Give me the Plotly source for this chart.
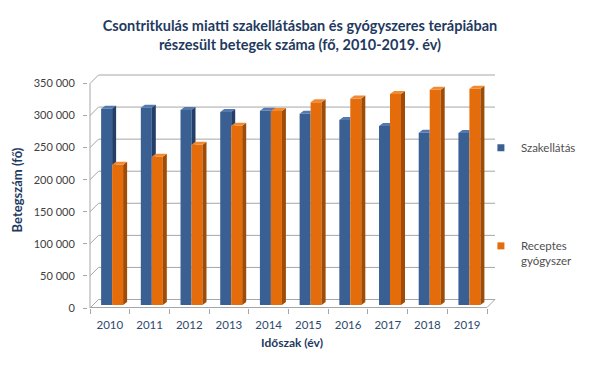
import plotly.graph_objects as go

# ---------------- data ----------------
years = ["2010", "2011", "2012", "2013", "2014", "2015", "2016", "2017", "2018", "2019"]
szakellatas = [306000, 307500, 304000, 301000, 303000, 298000, 288500, 279000, 268500, 268000]
receptes = [218500, 231000, 250000, 279500, 302500, 316000, 322000, 329000, 335500, 337000]
y_ticks = [0, 50000, 100000, 150000, 200000, 250000, 300000, 350000]

title_text = ("<b>Csontritkulás miatti szakellátásban és gyógyszeres terápiában</b><br>"
              "<b>részesült betegek száma (fő, 2010-2019. év)</b>")
y_title = "<b>Betegszám (fő)</b>"
x_title = "<b>Időszak (év)</b>"
name_blue = "Szakellátás"
name_orange = "Receptes<br>gyógyszer"

# ---------------- style / geometry ----------------
W, H = 600, 370
L, R, T, B = 88, 104, 72, 62
PX_CAT = 39.7          # pixels per category
VPX = 1559             # value units per pixel
plot_w = W - L - R
plot_h = H - T - B

x_lo = -0.5 - 2 / PX_CAT
x_hi = x_lo + plot_w / PX_CAT
y_lo = -3 * VPX                 # bar plane zero sits 3px above the plot bottom
y_hi = y_lo + plot_h * VPX
y2_hi = plot_h * VPX            # front (labelled) axis, zero at plot bottom

front_shift = -3 * VPX          # front plane relative to bar plane
back_shift = 5.5 * VPX          # back wall relative to bar plane
wall_dx = 8.5 / PX_CAT          # depth of walls in x units
n = len(years)
x_back_r = (n - 0.5) + 8 / PX_CAT

bar_w = 0.277
off_blue = -0.22
off_orange = off_blue + bar_w
dx = 4 / PX_CAT                 # visible depth of bars
dy = 3 * VPX

blue_front, blue_side, blue_top = "#3A5F93", "#233F69", "#5479AE"
orng_front, orng_side, orng_top = "#E46C0A", "#A04C06", "#F08A34"
grid_col = "#A6A6A6"
navy = "#1F3A5F"
label_col = "#404040"
legend_col = "#505050"
FONT = "Lato"

xs = list(range(n))

fig = go.Figure()
fig.add_trace(go.Bar(x=xs, y=szakellatas, offset=off_blue, width=bar_w,
                     marker=dict(color=blue_front, line=dict(width=0)),
                     name=name_blue, showlegend=False))
fig.add_trace(go.Bar(x=xs, y=receptes, offset=off_orange, width=bar_w,
                     marker=dict(color=orng_front, line=dict(width=0)),
                     name=name_orange, showlegend=False))
# legend entries
fig.add_trace(go.Scatter(x=[None], y=[None], mode="markers", name=name_blue,
                         marker=dict(symbol="square", size=7, color=blue_front),
                         legend="legend", hoverinfo="skip"))
fig.add_trace(go.Scatter(x=[None], y=[None], mode="markers", name=name_orange,
                         marker=dict(symbol="square", size=7, color=orng_front),
                         legend="legend2", hoverinfo="skip"))
# dummy trace for the front value axis
fig.add_trace(go.Scatter(x=[None], y=[None], yaxis="y2", showlegend=False, hoverinfo="skip"))

shapes = []


def path(pts):
    return "M " + " L ".join(f"{px},{py}" for px, py in pts) + " Z"


def line(x0, y0, x1, y1, layer="below"):
    shapes.append(dict(type="line", xref="x", yref="y", x0=x0, y0=y0, x1=x1, y1=y1,
                       line=dict(color=grid_col, width=1), layer=layer))


# back wall gridlines + left wall diagonals
for v in y_ticks:
    line(-0.5 + wall_dx, v + back_shift, x_back_r, v + back_shift)
    line(-0.5, v + front_shift, -0.5 + wall_dx, v + back_shift)
# left front edge (value axis line)
line(-0.5, front_shift, -0.5, y_ticks[-1] + front_shift)
# floor front edge and right diagonal
line(-0.5, front_shift + 0.5 * VPX, n - 0.5, front_shift + 0.5 * VPX)
line(n - 0.5, front_shift + 0.5 * VPX, x_back_r, back_shift)

# 3D faces of blue bars
for i, (vb, vo) in enumerate(zip(szakellatas, receptes)):
    xb0 = i + off_blue
    xb1 = xb0 + bar_w
    if vo > vb:
        top = [(xb0, vb), (xb1, vb), (xb1, vb + dy), (xb0 + dx, vb + dy)]
    else:
        top = [(xb0, vb), (xb1, vb), (xb1 + dx, vb + dy), (xb0 + dx, vb + dy)]
    shapes.append(dict(type="path", xref="x", yref="y", path=path(top),
                       fillcolor=blue_top, line=dict(width=0), layer="above"))
    if vo <= vb:
        side = [(xb1, vo), (xb1, vb), (xb1 + dx, vb + dy), (xb1 + dx, vo)]
    elif vo < vb + dy:
        t = (vo - vb) / dy
        side = [(xb1 + t * dx, vo), (xb1 + dx, vb + dy), (xb1 + dx, vo)]
    else:
        side = None
    if side:
        shapes.append(dict(type="path", xref="x", yref="y", path=path(side),
                           fillcolor=blue_side, line=dict(width=0), layer="above"))

# 3D faces of orange bars
for i, vo in enumerate(receptes):
    xo0 = i + off_orange
    xo1 = xo0 + bar_w
    side = [(xo1, 0), (xo1, vo), (xo1 + dx, vo + dy), (xo1 + dx, dy)]
    shapes.append(dict(type="path", xref="x", yref="y", path=path(side),
                       fillcolor=orng_side, line=dict(width=0), layer="above"))
    top = [(xo0, vo), (xo1, vo), (xo1 + dx, vo + dy), (xo0 + dx, vo + dy)]
    shapes.append(dict(type="path", xref="x", yref="y", path=path(top),
                       fillcolor=orng_top, line=dict(width=0), layer="above"))

fig.update_layout(
    width=W, height=H,
    margin=dict(l=L, r=R, t=T, b=B, autoexpand=False),
    paper_bgcolor="white", plot_bgcolor="rgba(0,0,0,0)",
    separators=", ",
    barmode="overlay",
    font=dict(family=FONT, size=11, color=label_col),
    title=dict(text=title_text, x=0.5, xref="container", xanchor="center",
               y=1 - 31 / H, yref="container", yanchor="middle",
               font=dict(family=FONT, size=14.5, color=navy)),
    xaxis=dict(range=[x_lo, x_hi], tickmode="array", tickvals=xs, ticktext=years,
               ticks="", showgrid=False, zeroline=False, showline=False,
               ticklabelstandoff=8,
               tickfont=dict(size=11.5, color="#2E4A6B"),
               minor=dict(tickmode="array", tickvals=[i - 0.5 for i in range(n + 1)],
                          ticks="outside", ticklen=5, tickcolor=grid_col, showgrid=False),
               title=dict(text=x_title, font=dict(size=12, color=navy), standoff=9)),
    yaxis=dict(range=[y_lo, y_hi], showticklabels=False, ticks="", showgrid=False,
               zeroline=False, showline=False),
    yaxis2=dict(range=[0, y2_hi], overlaying="y", side="left", anchor="x",
                tickmode="array", tickvals=y_ticks, tickformat=",d",
                ticks="outside", ticklen=4, tickcolor=grid_col, ticklabelstandoff=6,
                showgrid=False, zeroline=False, showline=False,
                tickfont=dict(size=11, color=label_col),
                title=dict(text=y_title, font=dict(size=13, color=navy), standoff=8)),
    legend=dict(x=0.963, y=(308 - 147.7) / plot_h, xref="paper", yref="paper",
                xanchor="left", yanchor="middle", itemwidth=30,
                bgcolor="rgba(0,0,0,0)", font=dict(size=11.5, color=legend_col)),
    legend2=dict(x=0.963, y=(308 - 253.4) / plot_h, xref="paper", yref="paper",
                 xanchor="left", yanchor="middle", itemwidth=30, valign="top",
                 bgcolor="rgba(0,0,0,0)", font=dict(size=11.5, color=legend_col)),
    shapes=shapes,
    hovermode=False,
)

# remove the default 8px page margin so the 600x370 figure fills the window exactly
fig.write_html("out.html", config={"displayModeBar": False},
               post_script="document.body.style.margin='0';")
